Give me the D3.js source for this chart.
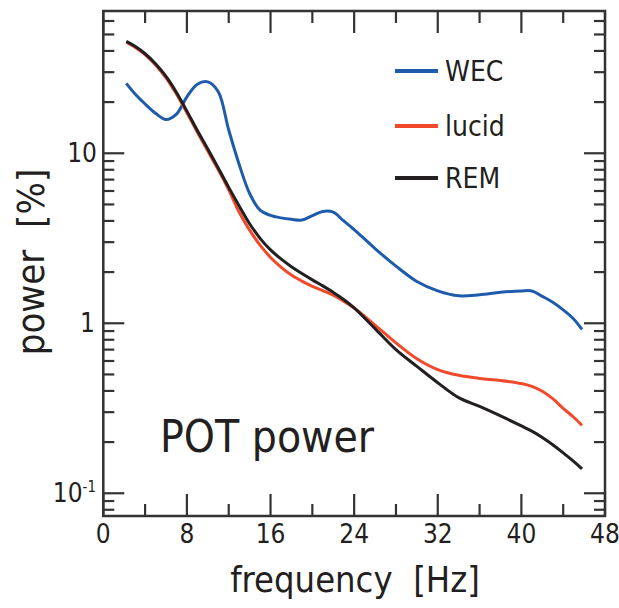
<!DOCTYPE html>
<html>
<head>
<meta charset="utf-8">
<title>POT power</title>
<style>
body { margin: 0; background: #fff; }
text { font-family: "Liberation Sans Narrow", "DejaVu Sans Condensed", "Open Sans", sans-serif; fill: #231f20; }
</style>
</head>
<body>
<svg width="619" height="608"></svg>
<script src="https://d3js.org/d3.v7.min.js"></script>
<script>

// frequency in Hz, power in %
freq  = [2.2, 3, 4, 5, 6, 7, 8, 9, 10, 11, 12, 13, 14, 15, 16, 17, 18, 19, 20, 21, 22, 23, 24, 26, 28, 30, 32, 34, 36, 38, 40, 41, 42, 43, 44, 45, 45.8]
wec   = [25.8, 22.5, 19.5, 17.2, 15.8, 17.0, 21.5, 25.5, 26.3, 23.0, 13.7, 8.6, 5.8, 4.63, 4.31, 4.17, 4.09, 4.05, 4.3, 4.55, 4.5, 4.0, 3.56, 2.75, 2.17, 1.76, 1.55, 1.45, 1.47, 1.52, 1.55, 1.55, 1.44, 1.33, 1.20, 1.06, 0.92]
lucid = [45, 42.2, 38, 33.1, 27.8, 22.3, 17.3, 13.3, 10.3, 8.0, 6.1, 4.5, 3.53, 2.88, 2.44, 2.14, 1.92, 1.77, 1.65, 1.556, 1.462, 1.349, 1.23, 0.976, 0.767, 0.619, 0.534, 0.494, 0.474, 0.461, 0.442, 0.425, 0.398, 0.36, 0.316, 0.28, 0.251]
rem   = [45.5, 42.7, 38.5, 33.6, 28.3, 22.8, 17.7, 13.6, 10.6, 8.2, 6.3, 4.9, 3.85, 3.16, 2.70, 2.39, 2.15, 1.96, 1.80, 1.66, 1.52, 1.38, 1.23, 0.93, 0.70, 0.558, 0.447, 0.365, 0.324, 0.285, 0.249, 0.232, 0.213, 0.193, 0.173, 0.154, 0.139]

seriesNames  = ["WEC", "lucid", "REM"]
seriesValues = [wec, lucid, rem]
seriesColors = ["#1e5cab", "#f04a2b", "#231f20"]

xTickValues = d3.range(0, 49, 4)
xTickLabels = ["0", "8", "16", "24", "32", "40", "48"]

const svg = d3.select("svg")

const x = d3.scaleLinear().domain([0, 48]).range([103.3, 605])
const y = d3.scaleLog().domain([0.0735, 68.7]).range([516, 11])

const xLeft = x.range()[0], xRight = x.range()[1]
const yTop = y.range()[1], yBottom = y.range()[0]

// curves first, frame drawn on top
const line = d3.line()
    .x((d, i) => x(freq[i]))
    .y(d => y(d))
    .curve(d3.curveCatmullRom.alpha(0.5))

svg.append("g")
    .attr("fill", "none")
  .selectAll("path")
  .data(seriesValues)
  .join("path")
    .attr("stroke", (d, i) => seriesColors[i])
    .attr("stroke-width", 3)
    .attr("stroke-linejoin", "round")
    .attr("d", line)

// ticks
const tickG = svg.append("g").attr("stroke", "#333").attr("stroke-width", 2.2)

xTickValues.forEach(v => {
  const len = v % 8 === 0 ? 22 : 12
  tickG.append("line").attr("x1", x(v)).attr("x2", x(v)).attr("y1", yBottom).attr("y2", yBottom - len)
  tickG.append("line").attr("x1", x(v)).attr("x2", x(v)).attr("y1", yTop).attr("y2", yTop + len)
})

y.ticks().forEach(v => {
  const major = Math.abs(Math.log10(v) - Math.round(Math.log10(v))) < 1e-9
  const len = major ? 21 : 11
  tickG.append("line").attr("x1", xLeft).attr("x2", xLeft + len).attr("y1", y(v)).attr("y2", y(v))
  tickG.append("line").attr("x1", xRight).attr("x2", xRight - len).attr("y1", y(v)).attr("y2", y(v))
})

svg.append("rect")
    .attr("x", xLeft).attr("y", yTop)
    .attr("width", xRight - xLeft).attr("height", yBottom - yTop)
    .attr("fill", "none")
    .attr("stroke", "#333")
    .attr("stroke-width", 2.5)

// tick labels
svg.append("g")
  .selectAll("text")
  .data(xTickLabels)
  .join("text")
    .attr("x", d => x(+d))
    .attr("y", 543)
    .attr("text-anchor", "middle")
    .attr("font-size", 26)
    .text(d => d)

const yl = svg.append("g").attr("font-size", 26).attr("text-anchor", "end")
yl.append("text").attr("x", 97).attr("y", y(10)).attr("dy", "0.35em").text("10")
yl.append("text").attr("x", 95).attr("y", y(1)).attr("dy", "0.35em").text("1")
const tenth = yl.append("text").attr("x", 96).attr("y", y(0.1)).attr("dy", "0.35em")
tenth.append("tspan").text("10")
tenth.append("tspan").attr("font-size", 15).attr("dy", "-0.7em").text("-1")

// axis titles
svg.append("text")
    .attr("x", 355).attr("y", 592)
    .attr("text-anchor", "middle")
    .attr("font-size", 36)
    .attr("xml:space", "preserve")
    .text("frequency  [Hz]")

svg.append("text")
    .attr("transform", "translate(44,262) rotate(-90)")
    .attr("text-anchor", "middle")
    .attr("font-size", 38)
    .attr("xml:space", "preserve")
    .text("power  [%]")

svg.append("text")
    .attr("x", 160).attr("y", 452)
    .attr("font-size", 44)
    .text("POT power")

// legend
const legendY = [71, 126, 178]
const lg = svg.append("g")
  .selectAll("g")
  .data(seriesNames)
  .join("g")
    .attr("transform", (d, i) => `translate(395,${legendY[i]})`)
lg.append("line")
    .attr("x2", 43)
    .attr("stroke", (d, i) => seriesColors[i])
    .attr("stroke-width", 4)
lg.append("text")
    .attr("x", 50)
    .attr("dy", "0.35em")
    .attr("font-size", 28)
    .text(d => d)

</script>
</body>
</html>
